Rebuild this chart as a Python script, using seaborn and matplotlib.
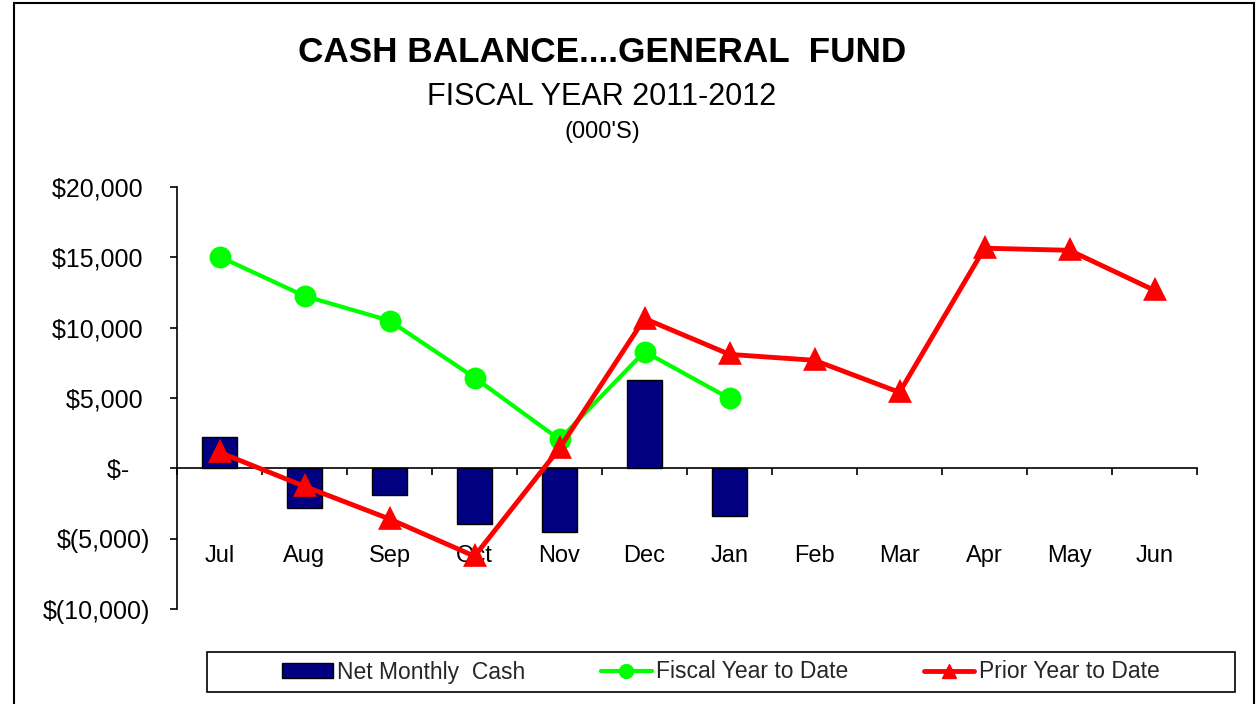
import matplotlib
matplotlib.use("Agg")
import matplotlib.pyplot as plt
import seaborn as sns
import pandas as pd
from matplotlib.patches import Rectangle, Patch
from matplotlib.lines import Line2D

months = ["Jul", "Aug", "Sep", "Oct", "Nov", "Dec", "Jan", "Feb", "Mar", "Apr", "May", "Jun"]
ytd_months = ["Jul", "Aug", "Sep", "Oct", "Nov", "Dec", "Jan"]
net_monthly_cash = [2250, -2850, -1900, -3950, -4500, 6250, -3400]
fiscal_ytd = [15050, 12250, 10500, 6450, 2050, 8300, 4970]
prior_ytd = [1140, -1280, -3600, -6250, 1420, 10650, 8100, 7680, 5400, 15650, 15500, 12650]
y_ticks = [-10000, -5000, 0, 5000, 10000, 15000, 20000]
y_tick_labels = ["$(10,000)", "$(5,000)", "$-   ", "$5,000 ", "$10,000 ", "$15,000 ", "$20,000 "]

sns.set_theme(style="white")
plt.rcParams["font.family"] = ["Liberation Sans", "DejaVu Sans"]

W, H = 1258, 704
fig = plt.figure(figsize=(W / 100, H / 100), dpi=100)
ax = fig.add_axes([177 / W, 1 - 609 / H, (1197 - 177) / W, (609 - 187) / H])

df_ytd = pd.DataFrame({"month": ytd_months, "net": net_monthly_cash, "fy": fiscal_ytd})
df_prior = pd.DataFrame({"month": months, "prior": prior_ytd})

sns.barplot(data=df_ytd, x="month", y="net", order=months, color="#000080",
            saturation=1, width=0.41, edgecolor="black", linewidth=1, ax=ax, zorder=2)
sns.pointplot(data=df_ytd, x="month", y="fy", order=months, color="#00FF00",
              markers="o", markersize=13.5, linewidth=3, errorbar=None, ax=ax)
sns.pointplot(data=df_prior, x="month", y="prior", order=months, color="#FF0000",
              markers="^", markersize=13.5, linewidth=3.5, errorbar=None, ax=ax)

ax.set_xlim(-0.5, len(months) - 0.5)
ax.set_ylim(-10000, 20000)
ax.set_xlabel("")
ax.set_ylabel("")

for s in ["top", "right"]:
    ax.spines[s].set_visible(False)
ax.spines["bottom"].set_position(("data", 0))
ax.spines["bottom"].set_zorder(1)
for s in ["left", "bottom"]:
    ax.spines[s].set_color("black")
    ax.spines[s].set_linewidth(1.2)

ax.set_yticks(y_ticks)
ax.set_yticklabels(y_tick_labels)
ax.tick_params(axis="y", direction="out", length=5, width=1.2, color="black",
               left=True, labelsize=18, pad=14.5, labelcolor="black")

ax.set_xticks(range(len(months)))
ax.set_xticklabels(months)
ax.set_xticks([i - 0.5 for i in range(len(months) + 1)], minor=True)
ax.tick_params(axis="x", which="major", length=0, pad=55, labelsize=17, labelcolor="black")
ax.tick_params(axis="x", which="minor", direction="out", length=5, width=1.2,
               color="black", bottom=True)

cx = 602 / W
fig.text(cx, 1 - 52 / H, "CASH BALANCE....GENERAL  FUND", ha="center", va="center",
         fontsize=25.3, fontweight="bold", color="black")
fig.text(cx, 1 - 97 / H, "FISCAL YEAR 2011-2012", ha="center", va="center",
         fontsize=22, color="black")
fig.text(cx, 1 - 132 / H, "(000'S)", ha="center", va="center",
         fontsize=17, color="black")

# outer frame
fig.patches.append(Rectangle((14 / W, -0.02), (1254 - 14) / W, 1.02 - 3 / H,
                             transform=fig.transFigure, fill=False,
                             edgecolor="black", linewidth=1.5))
# legend frame
fig.patches.append(Rectangle((207 / W, 1 - 692 / H), (1235 - 207) / W, 40 / H,
                             transform=fig.transFigure, fill=False,
                             edgecolor="black", linewidth=1.2))

handles = [
    Patch(facecolor="#000080", edgecolor="black", linewidth=1),
    Line2D([], [], color="#00FF00", marker="o", markersize=10, linewidth=3),
    Line2D([], [], color="#FF0000", marker="^", markersize=10, linewidth=3.5),
]
labels = ["Net Monthly  Cash", "Fiscal Year to Date", "Prior Year to Date"]
fig.legend(handles, labels, loc="center", bbox_to_anchor=(721 / W, 1 - 672 / H),
           ncol=3, frameon=False, fontsize=16.5, handlelength=2.2, handletextpad=0.2,
           columnspacing=3.3, handleheight=0.6)

fig.savefig("out.png", dpi=100)
